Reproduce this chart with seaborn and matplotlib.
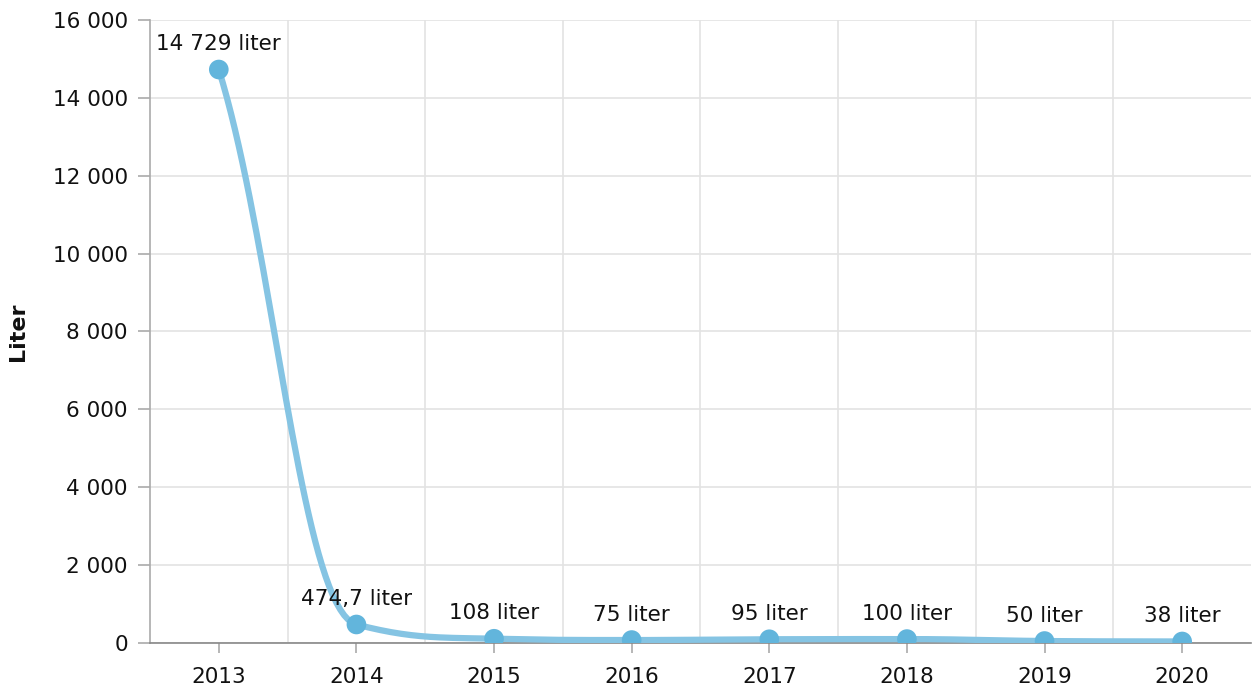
import numpy as np
import pandas as pd
import seaborn as sns
import matplotlib.pyplot as plt
from matplotlib.ticker import FuncFormatter, MultipleLocator

years = ["2013", "2014", "2015", "2016", "2017", "2018", "2019", "2020"]
liters = [14729, 474.7, 108, 75, 95, 100, 50, 38]

LINE_COLOR = "#85c4e3"
DOT_COLOR = "#62b5dc"
FS = 15.5


def fmt_num(v):
    if float(v).is_integer():
        return f"{int(v):,}".replace(",", " ")
    return f"{v:,.1f}".replace(",", " ").replace(".", ",")


def spline_path(xs, ys, smoothing=1.5, end_slope=0.8, n=40):
    """Spline through the points built from cubic bezier segments
    (Highcharts style control points, soft tangent at the ends)."""
    denom = smoothing + 1
    k = len(xs)
    right = [None] * k
    left = [None] * k
    for i in range(1, k - 1):
        lx, ly = xs[i - 1], ys[i - 1]
        nx, ny = xs[i + 1], ys[i + 1]
        px, py = xs[i], ys[i]
        lcx = (smoothing * px + lx) / denom
        lcy = (smoothing * py + ly) / denom
        rcx = (smoothing * px + nx) / denom
        rcy = (smoothing * py + ny) / denom
        corr = (rcy - lcy) * (rcx - px) / (rcx - lcx) + py - rcy
        lcy += corr
        rcy += corr
        if lcy > ly and lcy > py:
            lcy = max(ly, py); rcy = 2 * py - lcy
        elif lcy < ly and lcy < py:
            lcy = min(ly, py); rcy = 2 * py - lcy
        if rcy > ny and rcy > py:
            rcy = max(ny, py); lcy = 2 * py - rcy
        elif rcy < ny and rcy < py:
            rcy = min(ny, py); lcy = 2 * py - rcy
        left[i] = (lcx, lcy)
        right[i] = (rcx, rcy)
    # end points: tangent follows a share of the first / last chord
    f = 1 / denom
    right[0] = (xs[0] + f * (xs[1] - xs[0]), ys[0] + f * end_slope * (ys[1] - ys[0]))
    left[-1] = (xs[-1] - f * (xs[-1] - xs[-2]), ys[-1] - f * end_slope * (ys[-1] - ys[-2]))

    t = np.linspace(0, 1, n)
    b0, b1, b2, b3 = (1 - t) ** 3, 3 * (1 - t) ** 2 * t, 3 * (1 - t) * t ** 2, t ** 3
    out_x, out_y = [], []
    for i in range(1, k):
        p0 = (xs[i - 1], ys[i - 1])
        p1 = right[i - 1]
        p2 = left[i]
        p3 = (xs[i], ys[i])
        out_x.extend(b0 * p0[0] + b1 * p1[0] + b2 * p2[0] + b3 * p3[0])
        out_y.extend(b0 * p0[1] + b1 * p1[1] + b2 * p2[1] + b3 * p3[1])
    return np.array(out_x), np.array(out_y)


sns.set_theme(style="white")
plt.rcParams["font.family"] = ["DejaVu Sans"]

fig = plt.figure(figsize=(12.53, 6.93), dpi=100)
ax = fig.add_axes([0.1197, 0.0722, 0.8787, 0.8989])

xpos = np.arange(len(years))
cx, cy = spline_path(list(xpos), liters)
curve = pd.DataFrame({"x": cx, "y": cy})
pts = pd.DataFrame({"x": xpos, "y": liters})

sns.lineplot(data=curve, x="x", y="y", ax=ax, color=LINE_COLOR, lw=4.5,
             sort=False, estimator=None, zorder=3, solid_capstyle="round")
sns.scatterplot(data=pts, x="x", y="y", ax=ax, color=DOT_COLOR, s=200,
                edgecolor="none", zorder=4)

for x, v in zip(xpos, liters):
    ax.annotate(f"{fmt_num(v)} liter", (x, v), xytext=(0, 11),
                textcoords="offset points", ha="center", va="bottom",
                fontsize=FS, color="#111111", zorder=5)

ax.set_xlim(-0.5, len(years) - 0.5)
ax.set_ylim(0, 16000)
ax.set_xticks(xpos)
ax.set_xticklabels(years)
ax.set_xticks(xpos[:-1] + 0.5, minor=True)
ax.yaxis.set_major_locator(MultipleLocator(2000))
ax.yaxis.set_major_formatter(FuncFormatter(lambda v, p: fmt_num(v)))

ax.grid(True, axis="y", which="major", color="#e3e3e3", lw=1.2)
ax.grid(True, axis="x", which="minor", color="#e3e3e3", lw=1.2)
ax.grid(False, axis="x", which="major")

for side in ["top", "right"]:
    ax.spines[side].set_visible(False)
ax.spines["left"].set_color("#aaaaaa")
ax.spines["bottom"].set_color("#888888")
ax.spines["left"].set_linewidth(1.2)
ax.spines["bottom"].set_linewidth(1.2)

ax.tick_params(axis="x", which="major", direction="out", length=7.5, width=1.2,
               color="#aaaaaa", pad=10, labelsize=FS, labelcolor="#111111",
               bottom=True)
ax.tick_params(axis="x", which="minor", length=0)
ax.tick_params(axis="y", direction="out", length=8.5, width=1.2, color="#aaaaaa",
               pad=7.5, labelsize=FS, labelcolor="#111111", left=True)

ax.set_xlabel("")
ax.set_ylabel("Liter", fontsize=16, fontweight="bold", color="#111111", labelpad=18)

fig.savefig("out.png", dpi=100)
